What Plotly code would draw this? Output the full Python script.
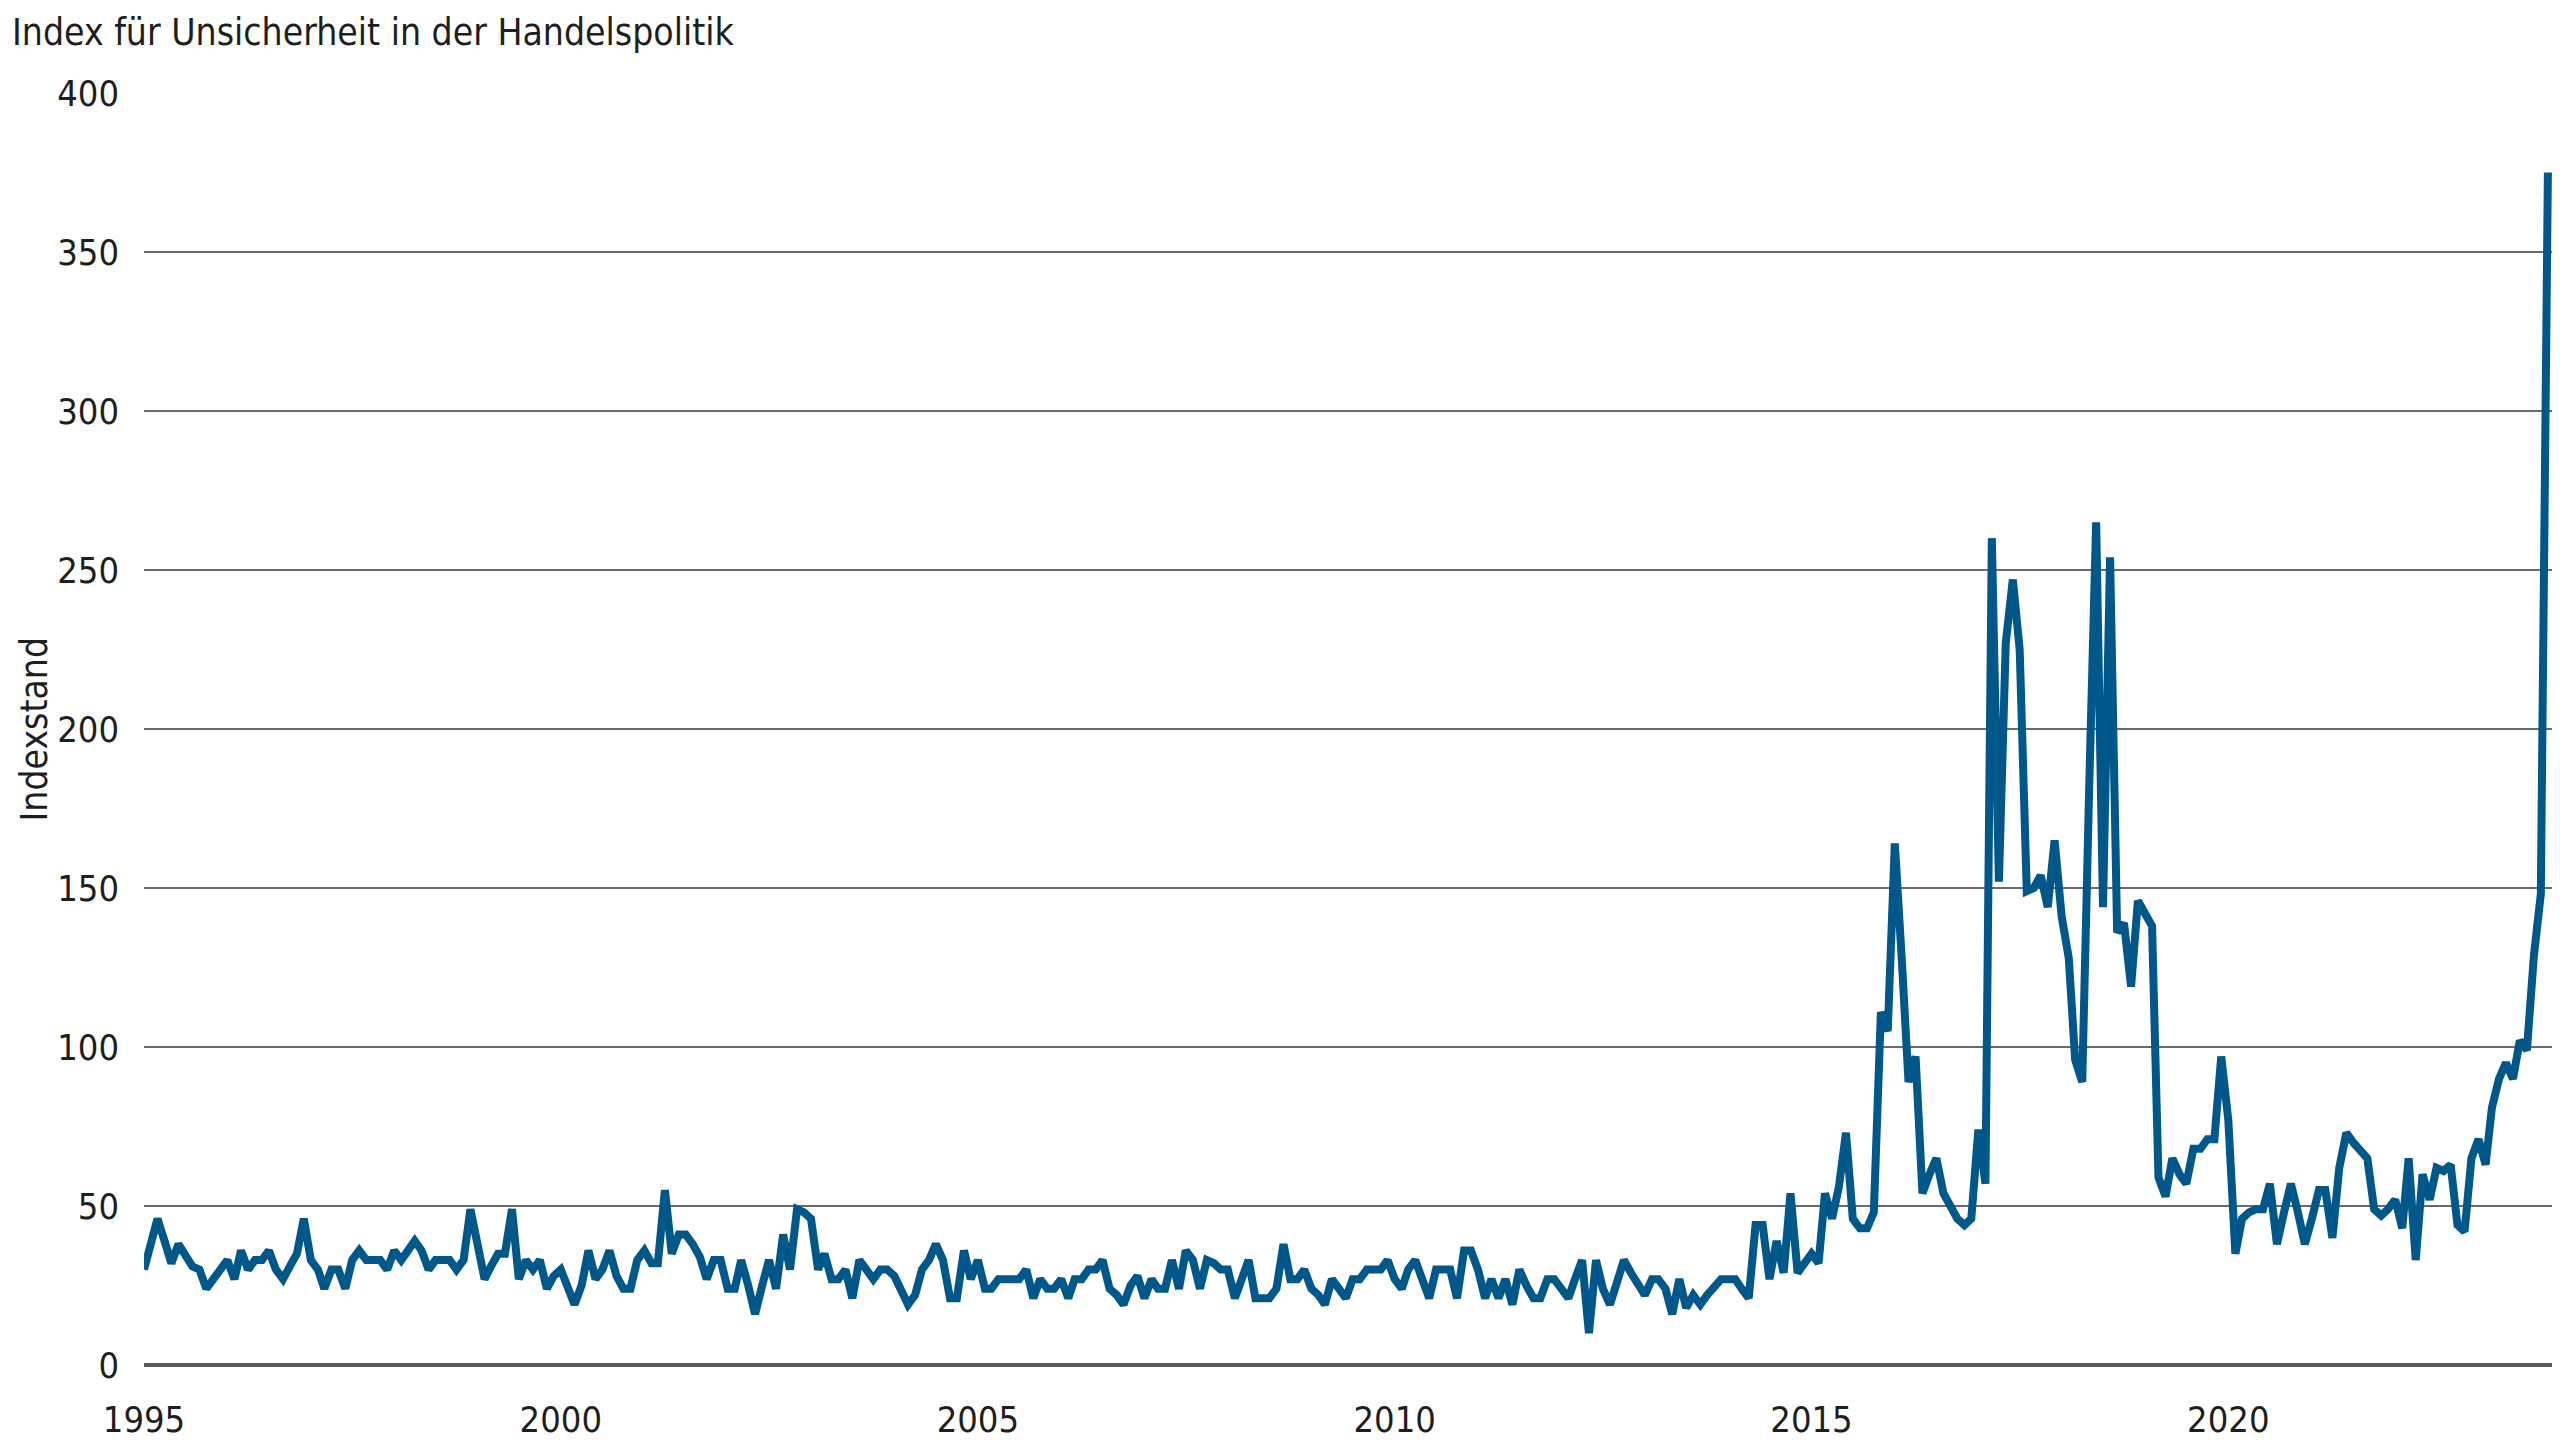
import pandas as pd
import plotly.graph_objects as go

# monthly trade policy uncertainty index
tpu_1995_1999 = [30, 38, 46, 39, 32, 38, 35, 31, 30, 24,
                 27, 30, 33, 27, 36, 30, 33, 33, 36, 30,
                 27, 31, 35, 46, 33, 30, 24, 30, 30, 24,
                 33, 36, 33, 33, 33, 30, 36, 33, 36, 39,
                 36, 30, 33, 33, 33, 30, 33, 49, 38, 27,
                 31, 35, 35, 49, 27, 33, 30, 33, 24, 28]
tpu_2000_2004 = [30, 24, 19, 25, 36, 27, 30, 36, 28, 24,
                 24, 33, 36, 32, 32, 55, 35, 41, 41, 38,
                 34, 27, 33, 33, 24, 24, 33, 25, 16, 25,
                 33, 24, 41, 30, 49, 48, 46, 30, 35, 27,
                 27, 30, 21, 33, 30, 27, 30, 30, 28, 24,
                 19, 22, 30, 33, 38, 33, 21, 21, 36, 27]
tpu_2005_2009 = [33, 24, 24, 27, 27, 27, 27, 30, 21, 27,
                 24, 24, 27, 21, 27, 27, 30, 30, 33, 24,
                 22, 19, 25, 28, 21, 27, 24, 24, 33, 24,
                 36, 33, 24, 33, 32, 30, 30, 21, 27, 33,
                 21, 21, 21, 24, 38, 27, 27, 30, 24, 22,
                 19, 27, 24, 21, 27, 27, 30, 30, 30, 33]
tpu_2010_2014 = [27, 24, 30, 33, 27, 21, 30, 30, 30, 21,
                 36, 36, 30, 21, 27, 21, 27, 19, 30, 25,
                 21, 21, 27, 27, 24, 21, 27, 33, 10, 33,
                 24, 19, 26, 33, 29, 26, 22, 27, 27, 24,
                 16, 27, 18, 22, 19, 22, 25, 27, 27, 27,
                 24, 21, 44, 44, 27, 39, 29, 54, 29, 32]
tpu_2015_2019 = [35, 32, 54, 46, 56, 73, 46, 43, 43, 48,
                 111, 105, 164, 127, 89, 97, 54, 60, 65, 54,
                 50, 46, 44, 46, 74, 57, 260, 152, 227, 247,
                 225, 149, 150, 154, 144, 165, 141, 128, 96, 89,
                 180, 265, 144, 254, 136, 139, 119, 146, 142, 138,
                 59, 53, 65, 60, 57, 68, 68, 71, 71, 97]
tpu_2020_2023 = [77, 35, 46, 48, 49, 49, 57, 38, 48, 57,
                 48, 38, 46, 55, 55, 40, 62, 73, 70, 67,
                 65, 49, 47, 49, 52, 43, 65, 33, 60, 52,
                 62, 61, 63, 44, 42, 65, 71, 63, 81, 90,
                 95, 90, 102, 99, 129, 148, 375]

tpu = tpu_1995_1999 + tpu_2000_2004 + tpu_2005_2009 + tpu_2010_2014 + tpu_2015_2019 + tpu_2020_2023
months = pd.date_range('1995-01-01', periods=len(tpu), freq='MS')

title_text = 'Index für Unsicherheit in der Handelspolitik'
y_title = 'Indexstand'

font_name = 'DejaVu Sans Condensed, Liberation Sans Narrow, sans-serif'
text_color = '#1e1e1e'

# page body has an 8px margin, so the figure is sized to fit the window
fig_w, fig_h = 2552, 1432

fig = go.Figure()
fig.add_trace(go.Scatter(
    x=months,
    y=tpu,
    mode='lines',
    line=dict(color='#00578a', width=8),
    showlegend=False,
    hovertemplate='%{x|%b %Y}: %{y}<extra></extra>'
))

fig.update_layout(
    width=fig_w,
    height=fig_h,
    margin=dict(l=136, r=8, t=85, b=75, autoexpand=False),
    paper_bgcolor='white',
    plot_bgcolor='white',
    font=dict(family=font_name, size=36, color=text_color),
    # title as a plain annotation near the top-left corner
    annotations=[
        dict(
            text=title_text,
            xref='paper', yref='paper',
            x=-134 / 2408, y=1 + 84 / 1272,
            xanchor='left', yanchor='top',
            showarrow=False,
            font=dict(size=37)
        ),
        dict(
            text=y_title,
            textangle=-90,
            xref='paper', yref='paper',
            x=-134 / 2408, y=0.5,
            xanchor='left', yanchor='middle',
            showarrow=False,
            font=dict(size=37)
        ),
    ],
    xaxis=dict(
        type='date',
        range=[months[0], months[-1] + pd.Timedelta(days=18)],
        tick0='1995-01-01',
        dtick='M60',
        tickformat='%Y',
        showgrid=False,
        zeroline=False,
        showline=False,
        ticks='',
        ticklabelstandoff=30,
        automargin=False,
    ),
    yaxis=dict(
        range=[0, 400],
        dtick=50,
        showgrid=True,
        gridcolor='#6a6a6a',
        gridwidth=1.6,
        zeroline=True,
        zerolinecolor='#54585b',
        zerolinewidth=4,
        ticks='',
        ticklabelstandoff=24,
        automargin=False,
    ),
)

fig.write_html("out.html")
